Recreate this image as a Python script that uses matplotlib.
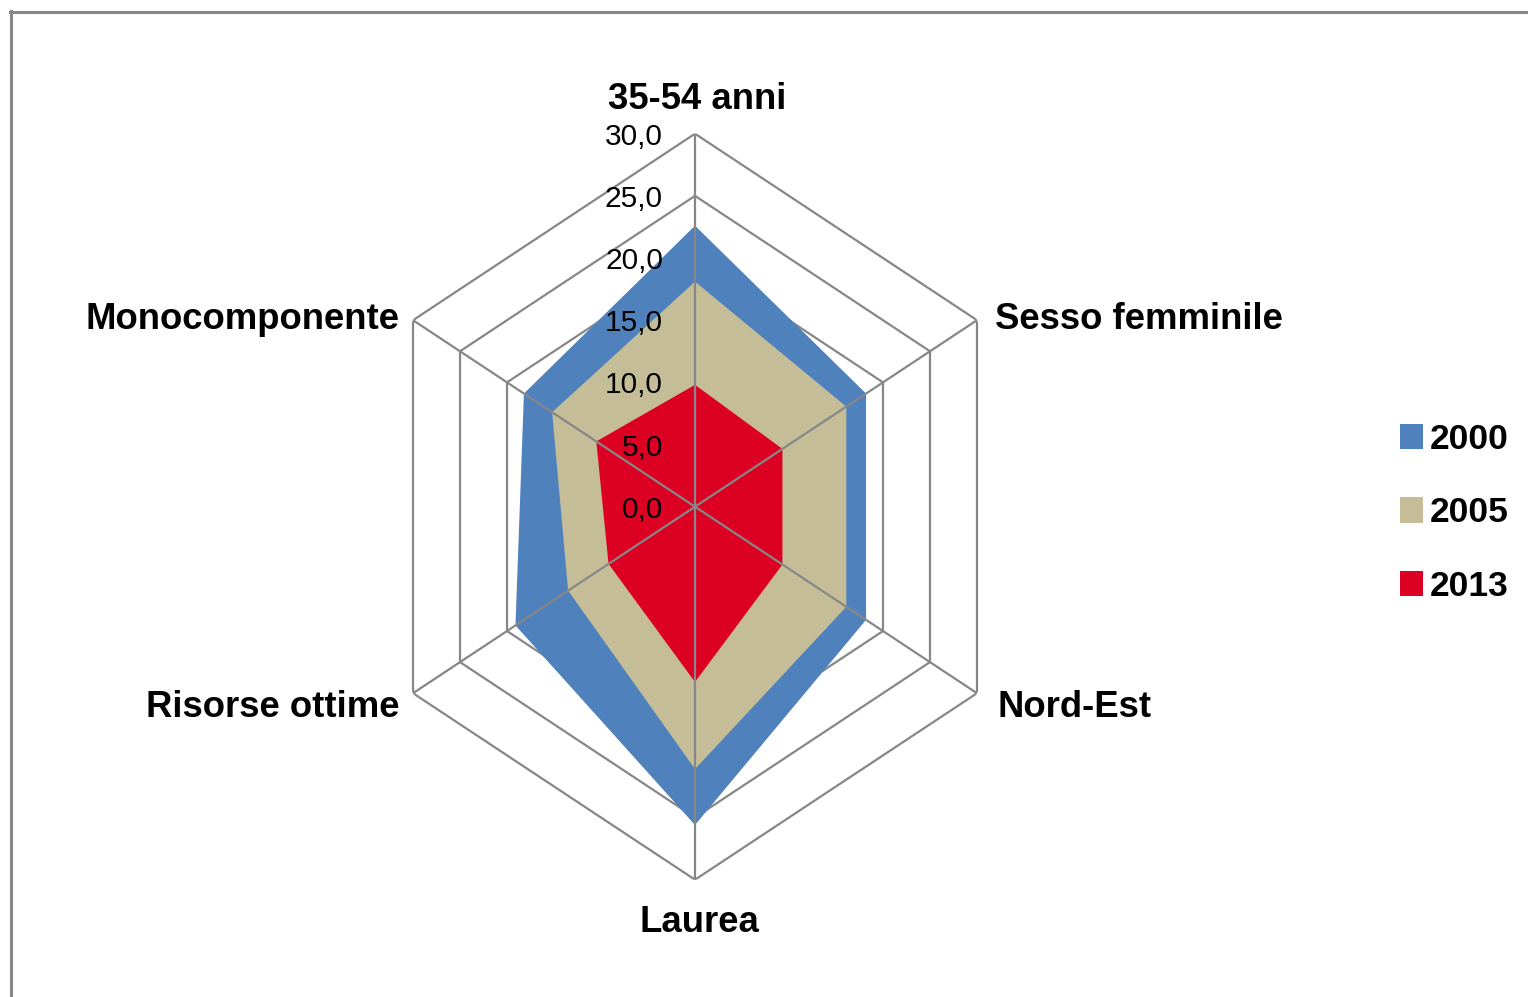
import numpy as np
import matplotlib
matplotlib.use('Agg')
import matplotlib.pyplot as plt
from matplotlib.patches import Patch
from matplotlib.lines import Line2D
from matplotlib.transforms import offset_copy

categorie = ['35-54 anni', 'Sesso femminile', 'Nord-Est', 'Laurea', 'Risorse ottime', 'Monocomponente']
anni = ['2000', '2005', '2013']
v2000 = [22.6, 18.2, 18.2, 25.6, 19.1, 18.2]
v2005 = [18.1, 16.1, 16.1, 21.1, 13.5, 15.2]
v2013 = [9.8, 9.3, 9.3, 14.1, 9.2, 10.5]
tick_vals = [0, 5, 10, 15, 20, 25, 30]
tick_labels = ['0,0', '5,0', '10,0', '15,0', '20,0', '25,0', '30,0']

colori = ['#4F81BD', '#C4BD97', '#DC0022']
grigio = '#878787'

W, H = 1528, 997
fig = plt.figure(figsize=(W / 100, H / 100), dpi=100)

# asse polare "schiacciato" orizzontalmente come nell'originale
cx, cy = 695, 506.7
rx, ry = 325.6, 373
ax = fig.add_axes([(cx - rx) / W, (H - cy - ry) / H, 2 * rx / W, 2 * ry / H], projection='polar')
ax.set_aspect('auto')
ax.set_theta_zero_location('N')
ax.set_theta_direction(-1)
ax.set_ylim(0, 30)
ax.grid(False)
ax.spines['polar'].set_visible(False)
ax.set_xticks([])
ax.set_yticks([])
ax.patch.set_alpha(0)

n = len(categorie)
ang = np.linspace(0, 2 * np.pi, n, endpoint=False)
ang_c = np.append(ang, ang[0])

# anelli sotto le aree, raggi sopra
for t in tick_vals[1:]:
    ax.plot(ang_c, [t] * (n + 1), color=grigio, lw=1.6, zorder=0.5)

for vals, col in zip([v2000, v2005, v2013], colori):
    ax.fill(ang_c, vals + vals[:1], color=col, lw=0, zorder=1)

for a in ang:
    ax.plot([a, a], [0, 30], color=grigio, lw=1.6, zorder=3)

# etichette dei valori
tr = offset_copy(ax.transData, fig=fig, x=-32, y=-3, units='dots')
for t, lab in zip(tick_vals, tick_labels):
    ax.text(0, t, lab, transform=tr, ha='right', va='center', fontsize=21.5,
            family='Liberation Sans', zorder=4)

# etichette delle categorie
pos = [(697, 109.3, 'center'), (995, 329.3, 'left'), (997, 716.7, 'left'),
       (699, 932.3, 'center'), (400, 716.7, 'right'), (400, 329.3, 'right')]
for lab, (x, y, ha) in zip(categorie, pos):
    fig.text(x / W, 1 - y / H, lab, ha=ha, va='baseline', fontsize=26.3,
             fontweight='bold', family='Liberation Sans')

handles = [Patch(facecolor=c, edgecolor='none') for c in colori]
fig.legend(handles, anni, loc='upper left', bbox_to_anchor=(1400 / W, 1 - 423 / H),
           frameon=False, borderpad=0, borderaxespad=0, handlelength=0.65, handleheight=0.72,
           handletextpad=0.2, labelspacing=1.14,
           prop={'family': 'Liberation Sans', 'weight': 'bold', 'size': 25.5})

# cornice grigia
fig.add_artist(Line2D([10 / W, 1.01], [1 - 12.5 / H] * 2, color=grigio, lw=2.2, transform=fig.transFigure))
fig.add_artist(Line2D([10.5 / W] * 2, [-0.01, 1 - 11.5 / H], color=grigio, lw=2.2, transform=fig.transFigure))

fig.savefig('out.png', dpi=100)
